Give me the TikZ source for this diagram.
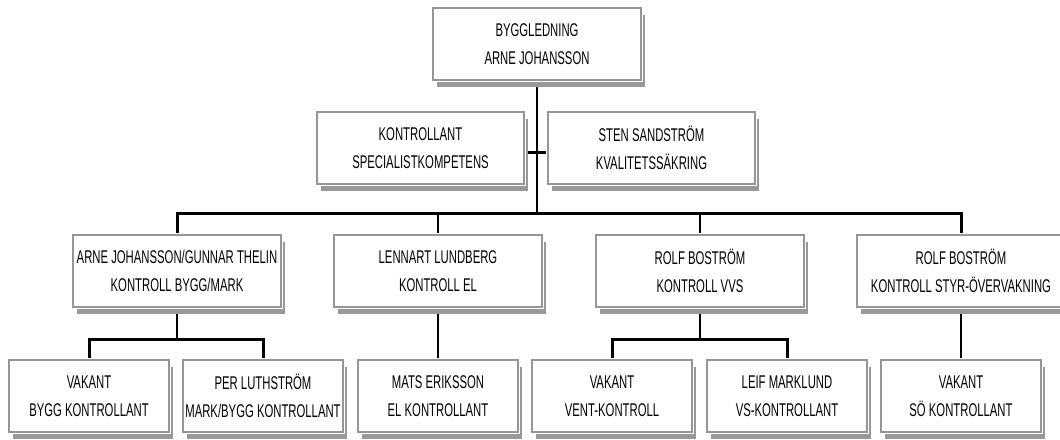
\documentclass[tikz,border=0pt]{standalone}
\usepackage{fontspec}
\newfontfamily\narrowfont[FakeStretch=0.615]{Liberation Sans}
\usetikzlibrary{shadows,backgrounds}
\definecolor{boxgray}{RGB}{150,150,150}
\definecolor{shadowgray}{RGB}{153,153,153}

\begin{document}
\begin{tikzpicture}[x = 0.5pt, y = -0.5pt,
    box/.style = {draw=boxgray, line width=1pt, fill=white, inner sep=0pt, align=center,
        minimum width=104pt, minimum height=36pt,
        font=\narrowfont\fontsize{9.2}{14}\selectfont,
        drop shadow={shadow xshift=2pt, shadow yshift=-3.5pt, opacity=1, fill=shadowgray},
        preaction={draw=white, line width=2pt}},
    small/.style = {box, minimum width=80pt},
    link/.style = {line width=1pt},
    trunk/.style = {line width=1.5pt}]
    \useasboundingbox (0,0) rectangle (1060,439);

    \node[box] (bl) at (537,44) {BYGGLEDNING\\ARNE JOHANSSON};
    \node[box, minimum width=103.5pt] (spec) at (420.5,148) {KONTROLLANT\\SPECIALISTKOMPETENS};
    \node[box, minimum width=103.5pt] (kval) at (651.5,148) {STEN SANDSTRÖM\\KVALITETSSÄKRING};

    \node[box] (bygg) at (177,271) {ARNE JOHANSSON/GUNNAR THELIN\\KONTROLL BYGG/MARK};
    \node[box] (el) at (438,271) {LENNART LUNDBERG\\KONTROLL EL};
    \node[box] (vvs) at (700,271) {ROLF BOSTRÖM\\KONTROLL VVS};
    \node[box] (styr) at (961,271) {ROLF BOSTRÖM\\KONTROLL STYR-ÖVERVAKNING};

    \node[small] (vakbygg) at (89,396) {VAKANT\\BYGG KONTROLLANT};
    \node[small] (per) at (263,396) {PER LUTHSTRÖM\\MARK/BYGG KONTROLLANT};
    \node[small] (mats) at (438,396) {MATS ERIKSSON\\EL KONTROLLANT};
    \node[small] (vakvent) at (612,396) {VAKANT\\VENT-KONTROLL};
    \node[small] (leif) at (787,396) {LEIF MARKLUND\\VS-KONTROLLANT};
    \node[small] (vakso) at (961,396) {VAKANT\\SÖ KONTROLLANT};

    \begin{pgfonlayer}{background}
    \coordinate (bus) at (537,213);
    \coordinate (sub) at (0,339);
    \draw[link] (bl) -- (bus);
    \draw[trunk] ([yshift=-2pt]spec.east) -- ([yshift=-2pt]kval.west);
    \draw[trunk] (bygg) |- (bus) -| (styr);
    \draw[link] (el) -- (el |- bus);
    \draw[link] (vvs) -- (vvs |- bus);

    \draw[link] (bygg) -- (bygg |- sub);
    \draw[trunk] (vakbygg) |- (bygg |- sub) -| (per);
    \draw[link] (el) -- (mats);
    \draw[link] (vvs) -- (vvs |- sub);
    \draw[trunk] (vakvent) |- (vvs |- sub) -| (leif);
    \draw[link] (styr) -- (vakso);
    \end{pgfonlayer}
\end{tikzpicture}
\end{document}
